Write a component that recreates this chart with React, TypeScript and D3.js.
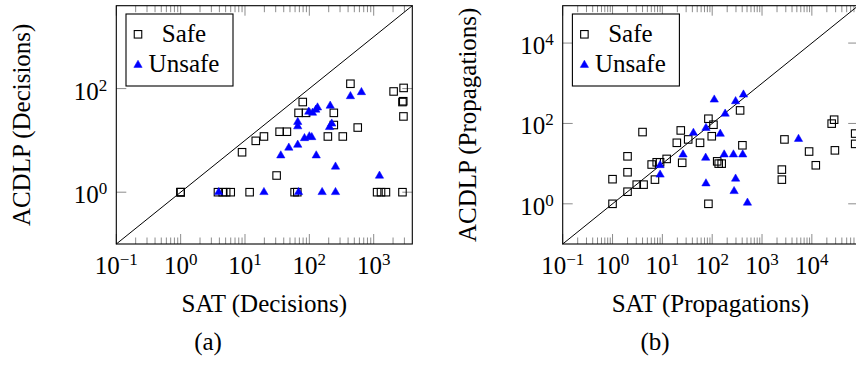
import React, { useEffect, useRef } from 'react';
import * as d3 from 'd3';

type Pt = [number, number];

// (SAT, ACDLP) pairs
const decisionsSafe: Pt[] = [
  [1, 1], [1, 1], [1, 1],
  [3.8, 1], [4.5, 1], [5.1, 1], [6.0, 1], [11.8, 1], [59, 1], [65, 1],
  [1130, 1], [1300, 1], [1550, 1], [2800, 1],
  [31, 2.1], [9, 5.9], [14.7, 9.8], [19.7, 11.9], [34.5, 14.7], [44.8, 14.7],
  [79, 55], [68, 34], [89, 34], [240, 34], [240, 19.8], [565, 17.7],
  [194, 11.9], [331, 11.9], [435, 124], [2040, 88], [2917, 103],
  [2800, 55], [2880, 57], [2900, 29],
];
const decisionsUnsafe: Pt[] = [
  [3.9, 1], [19.7, 1], [68, 1], [158, 1], [255, 1], [1230, 2.07],
  [255, 3.1], [128, 5.1], [36, 5.1], [48, 7.2], [66, 8.2],
  [84, 11], [100, 11.9], [109, 11.5], [66, 18.6], [66, 22.6],
  [206, 18], [223, 21], [211, 46.5],
  [98, 35.6], [112, 34], [126, 39], [134, 43], [435, 71], [645, 85],
];
const propagationsSafe: Pt[] = [
  [1, 1], [2, 2], [3.06, 3.0], [4.2, 3.0], [1, 4.1], [2, 6.1], [7.1, 4.0],
  [2, 15.2], [4, 61], [6.1, 9.5], [7.7, 10.8], [9, 10.8], [12.2, 13.1],
  [23.4, 67], [84, 131], [106, 93], [363, 211], [98, 48], [19.5, 33],
  [33, 40], [57, 33], [404, 28.6], [25, 10.5], [126, 11.4], [155, 10], [135, 10],
  [84, 1], [2820, 40], [8800, 20], [12000, 9.1], [2500, 7.1], [2500, 4.0],
  [25000, 99], [28000, 124], [29000, 21.4], [74000, 56], [74000, 31],
];
const propagationsUnsafe: Pt[] = [
  [110, 390], [295, 355], [424, 520], [182, 174], [75, 77], [42, 58], [145, 55],
  [26, 16.8], [74, 13.9], [174, 16.8], [267, 16.8], [410, 16.8],
  [5400, 41], [9, 9.1], [9, 5.3],
  [75, 3.2], [295, 4.2], [275, 2.06], [510, 1.06],
];

const decisionsXTicks = [-1, 0, 1, 2, 3];
const decisionsYTicks = [0, 2];
const propagationsXTicks = [-1, 0, 1, 2, 3, 4];
const propagationsYTicks = [0, 2, 4];
const legendLabels = ['Safe', 'Unsafe'];

const FONT = '"Liberation Serif", "Times New Roman", serif';
const FS = 25;
const BLUE = '#0000ff';

interface Panel {
  left: number;
  top: number;
  width: number;
  height: number;
  max: number;
  safe: Pt[];
  unsafe: Pt[];
  xTicks: number[];
  yTicks: number[];
  xLabel: string;
  yLabel: string;
  yLabelX: number;
  caption: string;
  captionX: number;
}

const panels: Panel[] = [
  {
    left: 116.3, top: 5.7, width: 296, height: 238.3, max: Math.pow(10, 3.6),
    safe: decisionsSafe, unsafe: decisionsUnsafe,
    xTicks: decisionsXTicks, yTicks: decisionsYTicks,
    xLabel: 'SAT (Decisions)', yLabel: 'ACDLP (Decisions)', yLabelX: 30,
    caption: '(a)', captionX: 208,
  },
  {
    left: 562.7, top: 5.7, width: 295.5, height: 238.3, max: Math.pow(10, 4.93),
    safe: propagationsSafe, unsafe: propagationsUnsafe,
    xTicks: propagationsXTicks, yTicks: propagationsYTicks,
    xLabel: 'SAT (Propagations)', yLabel: 'ACDLP (Propagations)', yLabelX: 475.5,
    caption: '(b)', captionX: 655,
  },
];

type G = d3.Selection<SVGGElement, unknown, null, undefined>;

function powLabel(sel: d3.Selection<SVGTextElement, unknown, null, undefined>, e: number) {
  sel.append('tspan').text('10');
  sel.append('tspan').attr('dy', -9).attr('font-size', 17).text(e < 0 ? `\u2212${-e}` : `${e}`);
}

function drawPanel(root: G, p: Panel) {
  const x = d3.scaleLog().domain([0.1, p.max]).range([p.left, p.left + p.width]);
  const y = d3.scaleLog().domain([0.1, p.max]).range([p.top + p.height, p.top]);
  const bottom = p.top + p.height;
  const right = p.left + p.width;
  const g = root.append('g');

  // minor ticks on x (top and bottom)
  const minors: number[] = [];
  for (let e = -1; e < Math.ceil(Math.log10(p.max)); e++) {
    for (let m = 2; m <= 9; m++) {
      const v = m * Math.pow(10, e);
      if (v < p.max) minors.push(v);
    }
  }
  const tickG = g.append('g').attr('stroke', '#8c8c8c').attr('stroke-width', 1);
  minors.forEach(v => {
    tickG.append('line').attr('x1', x(v)).attr('x2', x(v)).attr('y1', bottom).attr('y2', bottom - 6.5);
    tickG.append('line').attr('x1', x(v)).attr('x2', x(v)).attr('y1', p.top).attr('y2', p.top + 6.5);
  });
  p.xTicks.forEach(e => {
    const v = Math.pow(10, e);
    tickG.append('line').attr('x1', x(v)).attr('x2', x(v)).attr('y1', bottom).attr('y2', bottom - 10);
    tickG.append('line').attr('x1', x(v)).attr('x2', x(v)).attr('y1', p.top).attr('y2', p.top + 10);
  });
  p.yTicks.forEach(e => {
    const v = Math.pow(10, e);
    tickG.append('line').attr('x1', p.left).attr('x2', p.left + 10).attr('y1', y(v)).attr('y2', y(v));
    tickG.append('line').attr('x1', right).attr('x2', right - 10).attr('y1', y(v)).attr('y2', y(v));
  });

  // tick labels
  p.xTicks.forEach(e => {
    const t = g.append('text')
      .attr('x', x(Math.pow(10, e))).attr('y', bottom + 29.5)
      .attr('text-anchor', 'middle');
    powLabel(t, e);
  });
  p.yTicks.forEach(e => {
    const t = g.append('text')
      .attr('x', p.left - 9).attr('y', y(Math.pow(10, e)) + 11)
      .attr('text-anchor', 'end');
    powLabel(t, e);
  });

  // diagonal y = x
  g.append('line')
    .attr('x1', x(0.1)).attr('y1', y(0.1))
    .attr('x2', x(p.max)).attr('y2', y(p.max))
    .attr('stroke', '#000').attr('stroke-width', 1);

  // frame
  g.append('rect')
    .attr('x', p.left).attr('y', p.top).attr('width', p.width).attr('height', p.height)
    .attr('fill', 'none').attr('stroke', '#000').attr('stroke-width', 1.1);

  // points
  const sq = 7.5;
  g.append('g').selectAll('rect').data(p.safe).enter().append('rect')
    .attr('x', d => x(d[0]) - sq / 2).attr('y', d => y(d[1]) - sq / 2)
    .attr('width', sq).attr('height', sq)
    .attr('fill', 'none').attr('stroke', '#000').attr('stroke-width', 1.1);
  const tri = d3.symbol().type(d3.symbolTriangle).size(30);
  g.append('g').selectAll('path').data(p.unsafe).enter().append('path')
    .attr('d', tri() as string)
    .attr('transform', d => `translate(${x(d[0])},${y(d[1])})`)
    .attr('fill', BLUE).attr('stroke', BLUE).attr('stroke-width', 0.5);

  // legend
  const lx = p.left + 9.7;
  const ly = 14;
  const lg = g.append('g');
  lg.append('rect').attr('x', lx).attr('y', ly).attr('width', 107).attr('height', 72)
    .attr('fill', '#fff').attr('stroke', '#000').attr('stroke-width', 1.1);
  lg.append('rect').attr('x', lx + 12 - sq / 2).attr('y', ly + 20.3 - sq / 2)
    .attr('width', sq).attr('height', sq)
    .attr('fill', 'none').attr('stroke', '#000').attr('stroke-width', 1.1);
  lg.append('path').attr('d', tri() as string)
    .attr('transform', `translate(${lx + 12},${ly + 51})`)
    .attr('fill', BLUE).attr('stroke', BLUE).attr('stroke-width', 0.5);
  legendLabels.forEach((l, i) => {
    lg.append('text').attr('x', lx + 58).attr('y', ly + 27.7 + i * 30)
      .attr('text-anchor', 'middle').text(l);
  });

  // axis titles
  g.append('text').attr('x', (p.left + right) / 2).attr('y', 311.5)
    .attr('text-anchor', 'middle').text(p.xLabel);
  g.append('text')
    .attr('transform', `translate(${p.yLabelX},${p.top + p.height / 2}) rotate(-90)`)
    .attr('text-anchor', 'middle').text(p.yLabel);
  g.append('text').attr('x', p.captionX).attr('y', 350)
    .attr('text-anchor', 'middle').text(p.caption);
}

export default function App() {
  const ref = useRef<SVGSVGElement>(null);

  useEffect(() => {
    if (!ref.current) return;
    const svg = d3.select(ref.current);
    svg.selectAll('*').remove();
    const root = svg.append('g')
      .attr('font-family', FONT).attr('font-size', FS).attr('fill', '#000') as unknown as G;
    panels.forEach(p => drawPanel(root, p));
  }, []);

  return (
    <div style={{ position: 'fixed', left: 0, top: 0, width: 856, height: 365, background: '#fff' }}>
      <svg ref={ref} width={856} height={365} style={{ display: 'block' }} />
    </div>
  );
}
